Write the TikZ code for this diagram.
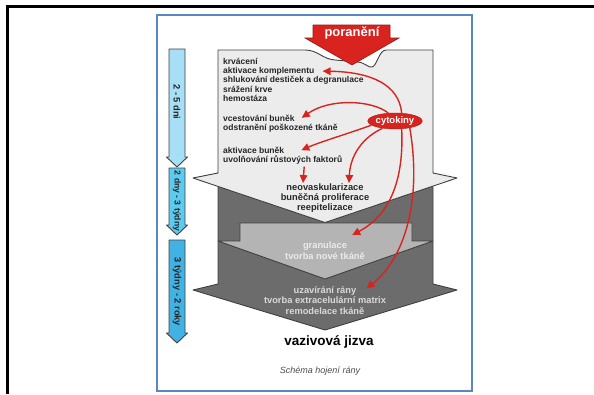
\documentclass[tikz,border=0pt]{standalone}
\usepackage{fontspec}
\setmainfont{Liberation Sans}
\usetikzlibrary{shapes.geometric,arrows.meta}
\definecolor{woundred}{HTML}{D8231E}
\definecolor{lightgr}{HTML}{ECECEC}
\definecolor{midgr}{HTML}{B4B4B4}
\definecolor{darkgr}{HTML}{6C6C6C}
\definecolor{frameblue}{HTML}{5B86C4}
\definecolor{blueA}{HTML}{A6DFF6}
\definecolor{blueB}{HTML}{5CCBEF}
\definecolor{blueC}{HTML}{40B3E4}
\begin{document}
\begin{tikzpicture}[x=1pt,y=-1pt,
  txt/.style={inner sep=0pt,anchor=base west,text=black!85,font=\fontsize{8.5}{9.4}\selectfont\bfseries},
  midtext/.style={inner sep=0pt,anchor=base,font=\fontsize{9.3}{10}\selectfont\bfseries},
  phase/.style={rotate=-90,inner sep=0pt,text=black!85,font=\fontsize{9.3}{10}\selectfont\bfseries},
  redarrow/.style={draw=woundred,line width=1.4pt,-{Triangle[length=8pt,width=7.5pt]}},
  arrowshape/.style={draw=black!75,line width=0.9pt,line join=round}]
\useasboundingbox (0,0) rectangle (594,394);
\draw[line width=3pt] (7.5,394) -- (7.5,6.5) -- (594,6.5);
\draw[frameblue,line width=2pt] (157,15) rectangle (472,391);
\foreach \top/\bot/\col in {49/157/blueA,168/225/blueB,240/333/blueC}
  \draw[arrowshape,fill=\col] (169,\top) -- (185,\top) -- (185,\bot) -- (187.5,\bot) -- (177,\bot+10) -- (166.5,\bot) -- (169,\bot) -- cycle;
\node[phase] (p1) at (177,102) {2 - 5 dni};
\node[phase,font=\fontsize{8.6}{9}\selectfont\bfseries] (p2) at (177,201) {2 dny - 3 týdny};
\node[phase] (p3) at (177,292) {3 týdny - 2 roky};
\draw[arrowshape,fill=darkgr] (218,172) -- (433,172) -- (433,284) -- (457,290) -- (325,330) -- (193,290) -- (218,284) -- cycle;
\draw[arrowshape,fill=midgr] (240,223) -- (412,223) -- (412,241) -- (433,241) -- (325,279) -- (218,241) -- (240,241) -- cycle;
\draw[arrowshape,fill=lightgr] (218,50) -- (305,50) .. controls (318,50) and (322,59) .. (335,60) -- (358,62) .. controls (366,63) and (368,68) .. (372,67) .. controls (377,66) and (379,50) .. (386,50) -- (433,50) -- (433,173) -- (457,178) -- (325,222.5) -- (193,178) -- (218,173) -- cycle;
\draw[draw=woundred!70!black,fill=woundred,line width=0.6pt] (313,25) -- (390,25) -- (390,38) -- (399,38) -- (352,65) -- (305,38) -- (313,38) -- cycle;
\node[anchor=base,inner sep=0pt,text=white,font=\fontsize{13}{14}\selectfont\bfseries] (inj) at (352,36.5) {poranění};
\node[txt] (krv) at (223,64) {krvácení};
\node[txt] (komp) at (223,73.3) {aktivace komplementu};
\node[txt] (shluk) at (223,82.7) {shlukování destiček a degranulace};
\node[txt] (sraz) at (223,92) {srážení krve};
\node[txt] (hemo) at (223,101.4) {hemostáza};
\node[txt] (vcest) at (223,121) {vcestování buněk};
\node[txt] (odstr) at (223,130.4) {odstranění poškozené tkáně};
\node[txt] (aktb) at (223,153.3) {aktivace buněk};
\node[txt] (uvol) at (223,162.7) {uvolňování růstových faktorů};
\node[midtext,text=black!85] (neo) at (325,190) {neovaskularizace};
\node[midtext,text=black!85] (prol) at (325,200.3) {buněčná proliferace};
\node[midtext,text=black!85] (reep) at (325,210.6) {reepitelizace};
\node[midtext,text=white!92!black] (gran) at (325,248) {granulace};
\node[midtext,text=white!92!black] (tvn) at (325,259) {tvorba nové tkáně};
\node[midtext,text=white!85!black] (uzav) at (325,293) {uzavírání rány};
\node[midtext,text=white!85!black] (ecm) at (325,303.8) {tvorba extracelulární matrix};
\node[midtext,text=white!85!black] (remod) at (325,314.5) {remodelace tkáně};
\node[anchor=base,inner sep=0pt,font=\fontsize{13.5}{15}\selectfont\bfseries] (scar) at (329,345) {vazivová jizva};
\node[anchor=base,inner sep=0pt,text=black!70,font=\fontsize{9}{10}\selectfont\itshape] (cap) at (320,373) {Schéma hojení rány};
\node[ellipse,fill=woundred,draw=woundred!80!black,minimum width=47pt,minimum height=16pt,inner sep=0pt,text=white,font=\fontsize{9.5}{10}\selectfont\bfseries] (cyt) at (395,121) {cytokiny};
\draw[redarrow] (cyt.50) .. controls (399,85) and (372,72) .. ([xshift=8pt]komp.east);
\draw[redarrow] (cyt.130) .. controls (372,100) and (330,98) .. ([xshift=7pt]vcest.east);
\draw[redarrow] (cyt.190) .. controls (350,133) and (320,142) .. ([xshift=17pt]aktb.east);
\draw[redarrow] (cyt.210) .. controls (358,140) and (350,160) .. ([xshift=24pt]neo.north);
\draw[redarrow] ([xshift=21.5pt,yshift=-2pt]uvol.south) -- ([xshift=-22pt]neo.north);
\draw[redarrow] (cyt.-50) .. controls (404,180) and (390,215) .. ([xshift=5pt,yshift=6pt]gran.north east);
\draw[redarrow] (cyt.-25) .. controls (422,200) and (405,258) .. ([xshift=10pt,yshift=2pt]uzav.east);
\end{tikzpicture}
\end{document}
